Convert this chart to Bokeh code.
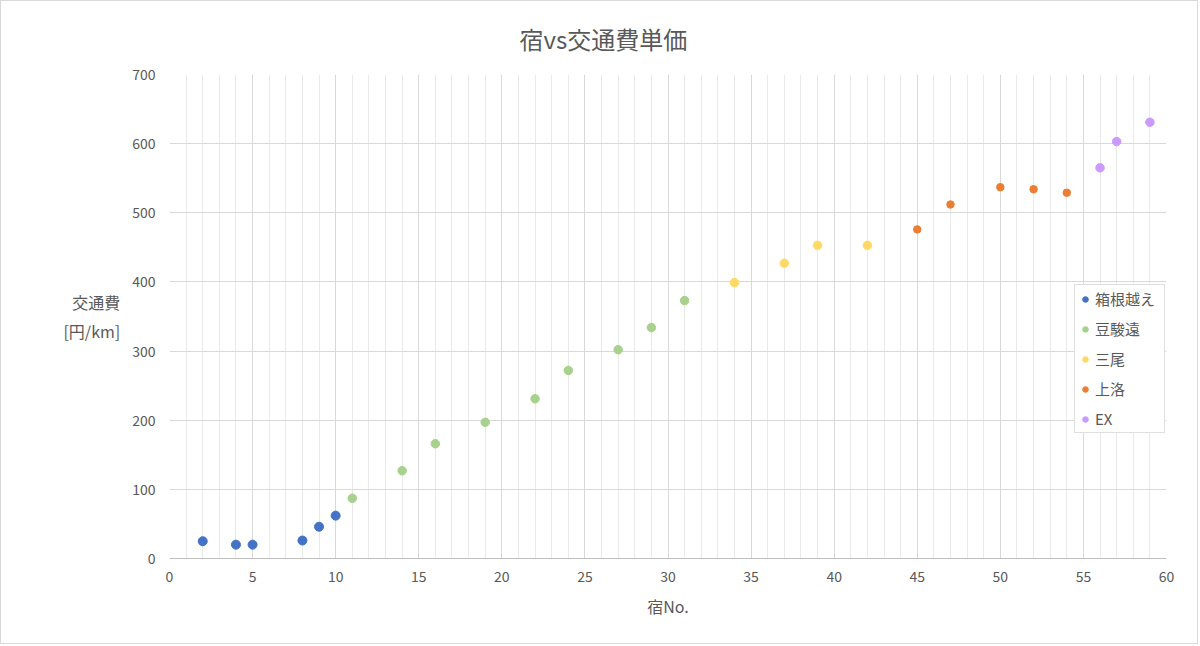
from bokeh.plotting import figure
from bokeh.models import Range1d, SingleIntervalTicker, Legend, LegendItem, Title
from bokeh.embed import file_html
from bokeh.resources import INLINE

# ---- data ----
groups = ["箱根越え", "豆駿遠", "三尾", "上洛", "EX"]
colors = ["#4472C4", "#A9D18E", "#FFD966", "#ED7D31", "#CC99FF"]
sizes = [9, 8.5, 8.5, 7.5, 8.5]

hakone_x = [2, 4, 5, 8, 9, 10]
hakone_y = [25, 20, 20, 26, 46, 62]
zusunen_x = [11, 14, 16, 19, 22, 24, 27, 29, 31]
zusunen_y = [87, 127, 166, 197, 231, 272, 302, 334, 373]
sanbi_x = [34, 37, 39, 42]
sanbi_y = [399, 427, 453, 453]
joraku_x = [45, 47, 50, 52, 54]
joraku_y = [476, 512, 537, 534, 529]
ex_x = [56, 57, 59]
ex_y = [565, 603, 631]

series_x = [hakone_x, zusunen_x, sanbi_x, joraku_x, ex_x]
series_y = [hakone_y, zusunen_y, sanbi_y, joraku_y, ex_y]

title_text = "宿vs交通費単価"
x_label = "宿No."
y_label = "交通費\n[円/km]"

FONT = "Noto Sans CJK JP"
TXT = "#595959"

p = figure(width=1198, height=644, output_backend="svg", toolbar_location=None,
           x_range=Range1d(0, 60), y_range=Range1d(0, 700),
           min_border_left=168, min_border_right=33, min_border_top=73, min_border_bottom=87)
p.outline_line_color = None
p.background_fill_color = "white"
p.border_fill_color = "white"
p.styles = {"border": "1px solid #d9d9d9"}

t = Title(text=title_text, align="left", offset=350, standoff=33, vertical_align="top",
          text_font=FONT, text_font_size="24px", text_font_style="normal", text_color=TXT)
p.add_layout(t, "above")

# axes
p.xaxis.ticker = SingleIntervalTicker(interval=5, num_minor_ticks=5)
p.yaxis.ticker = SingleIntervalTicker(interval=100, num_minor_ticks=0)
for ax in (p.xaxis[0], p.yaxis[0]):
    ax.major_tick_out = 0
    ax.major_tick_in = 0
    ax.minor_tick_out = 0
    ax.minor_tick_in = 0
    ax.major_label_text_font = FONT
    ax.major_label_text_font_size = "14px"
    ax.major_label_text_color = TXT
    ax.axis_label_text_font = FONT
    ax.axis_label_text_font_size = "16px"
    ax.axis_label_text_font_style = "normal"
    ax.axis_label_text_color = TXT
    ax.axis_label_text_line_height = 1.22
p.xaxis.axis_line_color = "#bfbfbf"
p.yaxis.axis_line_color = None
p.xaxis.major_label_standoff = 12
p.yaxis.major_label_standoff = 14
p.xaxis.axis_label = x_label
p.xaxis.axis_label_standoff = 9
p.yaxis.axis_label = y_label
p.yaxis.axis_label_orientation = "horizontal"
p.yaxis.axis_label_standoff = 9

p.xgrid.grid_line_color = "#d9d9d9"
p.xgrid.minor_grid_line_color = "#e9e9e9"
p.ygrid.grid_line_color = "#d9d9d9"

items = []
for name, col, sz, xs, ys in zip(groups, colors, sizes, series_x, series_y):
    r = p.scatter(xs, ys, size=sz, color=col, line_color=col)
    items.append(LegendItem(label=name, renderers=[r]))

legend = Legend(items=items, location=(905, 125), orientation="vertical",
                label_text_font=FONT, label_text_font_size="15px", label_text_color=TXT,
                border_line_color="#bfbfbf", background_fill_color="white", background_fill_alpha=1,
                spacing=9, label_height=20, label_width=66, glyph_width=14, glyph_height=20,
                padding=3, margin=0, label_standoff=3)
p.add_layout(legend, "center")

open("out.html", "w").write(file_html(p, INLINE))
